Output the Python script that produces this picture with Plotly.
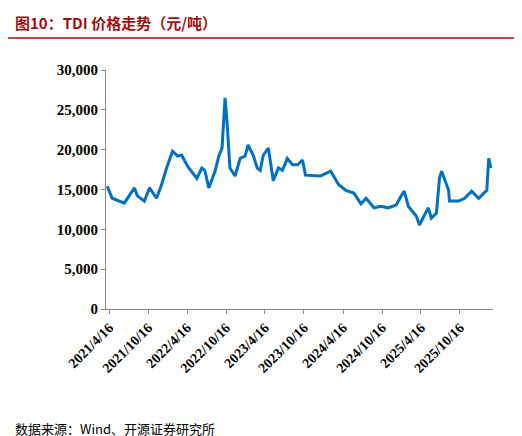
import plotly.graph_objects as go

dates = ["2021-04-07","2021-04-30","2021-06-26","2021-07-29","2021-08-12","2021-08-26","2021-09-28",
"2021-10-22","2021-11-24","2021-12-17","2022-01-10","2022-02-07","2022-03-03","2022-03-22","2022-04-19",
"2022-06-01","2022-06-24","2022-07-08","2022-07-27","2022-08-25","2022-09-12","2022-09-27","2022-10-11",
"2022-10-20","2022-11-03","2022-11-27","2022-12-21","2023-01-13","2023-01-27","2023-02-20","2023-03-11",
"2023-03-25","2023-04-08","2023-05-02","2023-05-25","2023-06-18","2023-07-07","2023-07-30","2023-08-23",
"2023-09-16","2023-10-09","2023-10-23","2024-01-02","2024-02-18","2024-03-27","2024-04-29","2024-06-06",
"2024-07-09","2024-08-02","2024-09-08","2024-10-11","2024-11-13","2024-12-21","2025-01-14","2025-01-28",
"2025-02-16","2025-03-26","2025-04-09","2025-05-21","2025-06-04","2025-06-28","2025-07-12","2025-07-22",
"2025-08-24","2025-08-28","2025-10-10","2025-11-07","2025-12-10","2026-01-12","2026-02-05","2026-02-19",
"2026-02-28","2026-03-10"]
prices = [15400,13900,13300,14550,15200,14200,13550,15200,13900,15550,17700,19800,19200,19300,17900,
16400,17700,17400,15200,17300,19200,20200,26500,23600,17700,16700,18900,19200,20600,19300,17700,
17400,19300,20200,16100,17700,17400,18900,18100,18100,18700,16800,16700,17300,15600,14900,14550,
13200,13900,12700,12900,12700,13050,14200,14800,12900,11650,10550,12700,11400,12050,16400,17300,
14900,13550,13550,13900,14800,13900,14550,14900,18900,17700]
tick_vals = ["2021-04-16","2021-10-16","2022-04-16","2022-10-16","2023-04-16","2023-10-16",
             "2024-04-16","2024-10-16","2025-04-16","2025-10-16"]
tick_text = ["2021/4/16","2021/10/16","2022/4/16","2022/10/16","2023/4/16","2023/10/16",
             "2024/4/16","2024/10/16","2025/4/16","2025/10/16"]

fig = go.Figure(go.Scatter(x=dates, y=prices, mode="lines",
                           line=dict(color="#0070C0", width=3)))
font_serif = "Liberation Serif"
fig.update_layout(
    width=522, height=436, paper_bgcolor="white", plot_bgcolor="white",
    margin=dict(l=98, r=37, t=62, b=135, autoexpand=False), showlegend=False,
    font=dict(family=font_serif, size=14, color="black"),
    xaxis=dict(tickvals=tick_vals, ticktext=tick_text, tickangle=-45, automargin=False,
               range=["2021-04-01","2026-03-20"], showgrid=False,
               showline=True, linecolor="#888", linewidth=1, ticks="outside",
               ticklen=4, tickcolor="#888",
               tickfont=dict(family=font_serif, size=14, color="black", weight="bold")),
    yaxis=dict(range=[0, 30000], dtick=5000, tickformat=",", showgrid=False, automargin=False,
               showline=True, linecolor="#888", linewidth=1, ticks="outside",
               ticklen=4, tickcolor="#888",
               tickfont=dict(family=font_serif, size=15, color="black", weight="bold")),
)
fig.add_annotation(text="<b>图10：TDI 价格走势（元/吨）</b>", xref="paper", yref="paper",
                   x=-0.24, y=1.20, xanchor="left", yanchor="middle", showarrow=False,
                   font=dict(family="Noto Sans CJK SC", size=15, color="#A01010"))
fig.add_shape(type="line", xref="paper", yref="paper", x0=-0.253, x1=1.096, y0=1.134, y1=1.134,
              line=dict(color="#A01010", width=1.5))
fig.add_annotation(text="数据来源：Wind、开源证券研究所", xref="paper", yref="paper",
                   x=-0.24, y=-0.498, xanchor="left", yanchor="middle", showarrow=False,
                   font=dict(family="Noto Sans CJK SC", size=13, color="black"))
fig.write_html("out.html")
